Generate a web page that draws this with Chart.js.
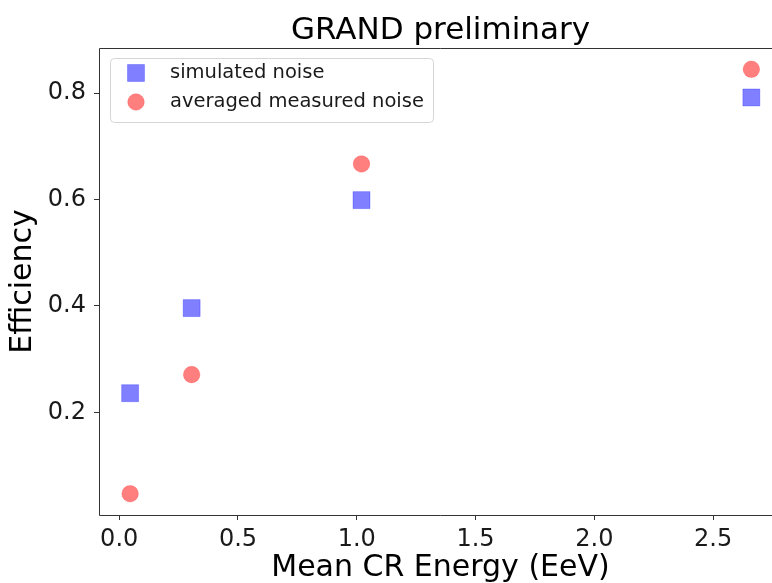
<!DOCTYPE html>
<html>
<head>
<meta charset="utf-8">
<script src="https://cdn.jsdelivr.net/npm/chart.js@4/dist/chart.umd.min.js"></script>
<style>
  html, body { margin: 0; padding: 0; background: #fff; width: 772px; height: 583px; overflow: hidden; }
  #clip { width: 772px; height: 583px; overflow: hidden; position: relative; }
  #wrap { position: absolute; left: 0; top: 0; width: 783px; height: 583px; }
</style>
</head>
<body>
<div id="clip"><div id="wrap"><canvas id="chart" width="783" height="583"></canvas></div></div>
<script>
const energies = [0.046, 0.305, 1.020, 2.661];
const simulatedEff = [0.236, 0.396, 0.599, 0.792];
const measuredEff = [0.047, 0.271, 0.667, 0.845];
const seriesLabels = ['simulated noise', 'averaged measured noise'];
const xTicks = [0.0, 0.5, 1.0, 1.5, 2.0, 2.5];
const yTicks = [0.2, 0.4, 0.6, 0.8];

const FONT = "'DejaVu Sans', sans-serif";

function toPoints(xs, ys) {
    return xs.map((x, i) => ({ x: x, y: ys[i] }));
}

// left, top and bottom spines; the right one is cut off in the original figure
const framePlugin = {
    id: 'frame',
    afterDraw(chart) {
        const { ctx, chartArea: a } = chart;
        ctx.save();
        ctx.strokeStyle = '#333';
        ctx.lineWidth = 1;
        ctx.beginPath();
        ctx.moveTo(a.right, a.top + 0.5);
        ctx.lineTo(a.left + 0.5, a.top + 0.5);
        ctx.lineTo(a.left + 0.5, a.bottom + 0.5);
        ctx.lineTo(a.right, a.bottom + 0.5);
        ctx.stroke();
        ctx.restore();
    }
};

// title centered over the axes like matplotlib
const titlePlugin = {
    id: 'axTitle',
    afterDraw(chart) {
        const { ctx, chartArea: a } = chart;
        ctx.save();
        ctx.font = '31px ' + FONT;
        ctx.fillStyle = '#000';
        ctx.textAlign = 'center';
        ctx.textBaseline = 'alphabetic';
        ctx.fillText('GRAND preliminary', (a.left + a.right) / 2, a.top - 9);
        ctx.restore();
    }
};

// legend box inside the axes, upper left
const legendPlugin = {
    id: 'boxLegend',
    afterDraw(chart) {
        const { ctx, chartArea: a } = chart;
        const bx = a.left + 11, by = a.top + 10, bw = 323, bh = 64;
        ctx.save();
        ctx.fillStyle = 'rgba(255,255,255,0.8)';
        ctx.strokeStyle = 'rgba(204,204,204,0.8)';
        ctx.lineWidth = 1;
        ctx.beginPath();
        ctx.roundRect(bx + 0.5, by + 0.5, bw, bh, 4);
        ctx.fill();
        ctx.stroke();
        ctx.font = '19.5px ' + FONT;
        ctx.textBaseline = 'middle';
        chart.data.datasets.forEach((ds, i) => {
            const cy = by + 15 + i * 29;
            ctx.fillStyle = ds.backgroundColor;
            ctx.strokeStyle = ds.borderColor;
            ctx.lineWidth = ds.borderWidth;
            Chart.helpers.drawPoint(ctx, {
                pointStyle: ds.pointStyle,
                radius: ds.pointRadius,
                borderWidth: ds.borderWidth,
                rotation: 0
            }, bx + 26, cy);
            ctx.fillStyle = '#1a1a1a';
            ctx.fillText(ds.label, bx + 60, cy);
        });
        ctx.restore();
    }
};

const ctx = document.getElementById('chart').getContext('2d');
new Chart(ctx, {
    type: 'scatter',
    data: {
        datasets: [
            {
                label: seriesLabels[0],
                data: toPoints(energies, simulatedEff),
                pointStyle: 'rect',
                pointRadius: 12,
                pointHoverRadius: 12,
                backgroundColor: 'rgba(0,0,255,0.5)',
                borderColor: 'rgba(0,0,255,0.25)',
                borderWidth: 1
            },
            {
                label: seriesLabels[1],
                data: toPoints(energies, measuredEff),
                pointStyle: 'circle',
                pointRadius: 8.3,
                pointHoverRadius: 8.3,
                backgroundColor: 'rgba(255,0,0,0.5)',
                borderColor: 'rgba(255,0,0,0.2)',
                borderWidth: 1
            }
        ]
    },
    options: {
        responsive: false,
        animation: false,
        layout: { autoPadding: false, padding: { top: 48, right: 1, left: 0, bottom: 0 } },
        plugins: {
            legend: { display: false },
            title: { display: false },
            tooltip: { enabled: false }
        },
        scales: {
            x: {
                type: 'linear',
                min: -0.085,
                max: 2.79,
                afterBuildTicks: (s) => { s.ticks = xTicks.map(v => ({ value: v })); },
                afterFit: (s) => { s.height = 68; s.paddingLeft = 0; s.paddingRight = 0; },
                grid: { display: true, drawOnChartArea: false, drawTicks: true, tickLength: 5, color: '#333' },
                border: { display: false },
                ticks: {
                    color: '#1a1a1a',
                    padding: 5,
                    font: { family: FONT, size: 24 },
                    callback: (v) => Number(v).toFixed(1),
                    maxRotation: 0
                },
                title: {
                    display: true,
                    text: 'Mean CR Energy (EeV)',
                    color: '#000',
                    font: { family: FONT, size: 30, lineHeight: 1 },
                    padding: { top: 0, bottom: 0 }
                }
            },
            y: {
                type: 'linear',
                min: 0.007,
                max: 0.885,
                afterBuildTicks: (s) => { s.ticks = yTicks.map(v => ({ value: v })); },
                afterFit: (s) => { s.width = 99; },
                grid: { display: true, drawOnChartArea: false, drawTicks: true, tickLength: 5, color: '#333' },
                border: { display: false },
                ticks: {
                    color: '#1a1a1a',
                    padding: 8,
                    font: { family: FONT, size: 24 },
                    callback: (v) => Number(v).toFixed(1)
                },
                title: {
                    display: true,
                    text: 'Efficiency',
                    color: '#000',
                    font: { family: FONT, size: 30, lineHeight: 1 },
                    padding: { top: 8, bottom: 0 }
                }
            }
        }
    },
    plugins: [framePlugin, titlePlugin, legendPlugin]
});
</script>
</body>
</html>
